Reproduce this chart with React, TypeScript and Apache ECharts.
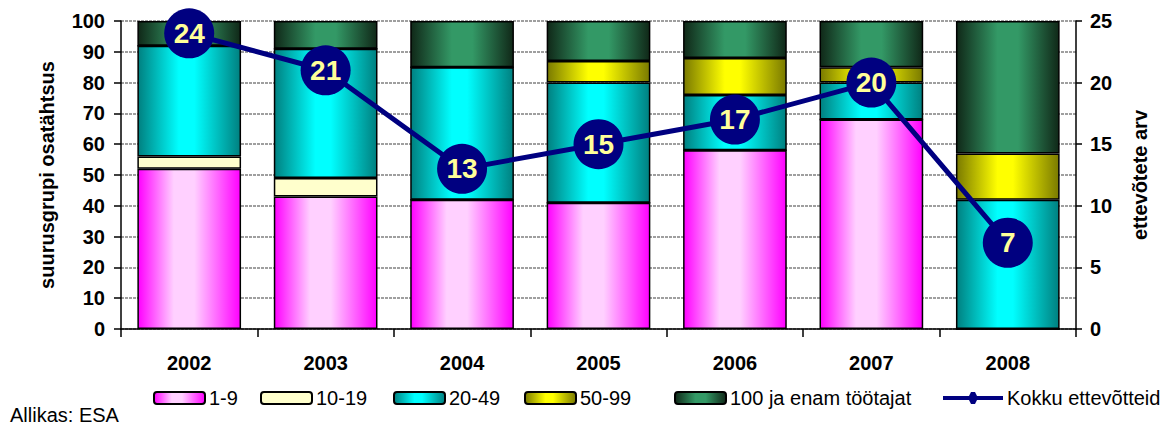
import React, { useEffect, useRef } from "react";
import * as echarts from "echarts";

const categories = ["2002", "2003", "2004", "2005", "2006", "2007", "2008"];
const s1_9 = [52, 43, 42, 41, 58, 68, 0];
const s10_19 = [4, 6, 0, 0, 0, 0, 0];
const s20_49 = [36, 42, 43, 39, 18, 12, 42];
const s50_99 = [0, 0, 0, 7, 12, 5, 15];
const s100 = [8, 9, 15, 13, 12, 15, 43];
const total = [24, 21, 13, 15, 17, 20, 7];

const seriesNames = ["1-9", "10-19", "20-49", "50-99", "100 ja enam töötajat", "Kokku ettevõtteid"];
const legendLefts = [153, 260, 393, 524, 674, 943];

const FONT = "Arial, 'Liberation Sans', sans-serif";
const LINE_ICON = "path://M0,4 L26,4 L28,0 L32,0 L34,4 L60,4 L60,8 L34,8 L32,12 L28,12 L26,8 L0,8 Z";

function hGrad(edge: string, mid: string, a = 0.4, b = 0.6) {
  return new echarts.graphic.LinearGradient(0, 0, 1, 0, [
    { offset: 0, color: edge },
    { offset: a, color: mid },
    { offset: b, color: mid },
    { offset: 1, color: edge },
  ]);
}

export default function App() {
  const ref = useRef<HTMLDivElement>(null);
  useEffect(() => {
    if (!ref.current) return;
    const chart = echarts.init(ref.current, undefined, { renderer: "svg" });
    const fills = [
      hGrad("#FF00FF", "#FFD0FF", 0.35, 0.55),
      "#FFFFCC",
      hGrad("#008080", "#00FFFF", 0.4, 0.55),
      hGrad("#7A7A00", "#FFFF00", 0.4, 0.55),
      hGrad("#102818", "#339966", 0.4, 0.6),
    ];
    const dataSets = [s1_9, s10_19, s20_49, s50_99, s100];
    const barSeries = dataSets.map((d, i) => ({
      name: seriesNames[i],
      type: "bar",
      stack: "total",
      barCategoryGap: "24%",
      data: d,
      itemStyle: { color: fills[i], borderColor: "#000", borderWidth: 1.5 },
      z: 2,
    }));
    const legends = seriesNames.map((n, i) => ({
      data: i === 5 ? [{ name: n, icon: LINE_ICON, itemStyle: { color: "#000080" } }] : [n],
      left: legendLefts[i],
      top: 388,
      padding: 0,
      itemWidth: i === 5 ? 60 : 51,
      itemHeight: 12,
      itemGap: 4,
      textStyle: { fontFamily: FONT, fontSize: 20, color: "#000", padding: [0, 0, 0, -1] },
    }));
    chart.setOption({
      animation: false,
      backgroundColor: "#fff",
      grid: { left: 121, right: 93, top: 21, bottom: 96 },
      legend: legends,
      xAxis: {
        type: "category",
        data: categories,
        axisLine: { lineStyle: { color: "#000", width: 1.5 } },
        axisTick: { show: true, length: 8, lineStyle: { color: "#000", width: 1.5 } },
        axisLabel: { margin: 24, fontFamily: FONT, fontSize: 20, fontWeight: "bold", color: "#000" },
      },
      yAxis: [
        {
          type: "value",
          min: 0,
          max: 100,
          interval: 10,
          name: "suurusgrupi osatähtsus",
          nameLocation: "middle",
          nameGap: 64,
          nameRotate: 90,
          nameTextStyle: { fontFamily: FONT, fontSize: 20, fontWeight: "bold", color: "#000" },
          axisLine: { show: true, lineStyle: { color: "#000", width: 1.5 } },
          axisTick: { show: true, length: 7, lineStyle: { color: "#000", width: 1.5 } },
          axisLabel: { margin: 16, fontFamily: FONT, fontSize: 20, fontWeight: "bold", color: "#000" },
          splitLine: { show: true, lineStyle: { color: "#808080", type: [3, 1], width: 1.5 } },
        },
        {
          type: "value",
          min: 0,
          max: 25,
          interval: 5,
          position: "right",
          name: "ettevõtete arv",
          nameLocation: "middle",
          nameGap: 54,
          nameRotate: 90,
          nameTextStyle: { fontFamily: FONT, fontSize: 20, fontWeight: "bold", color: "#000" },
          axisLine: { show: true, lineStyle: { color: "#000", width: 1.5 } },
          axisTick: { show: true, length: 6, lineStyle: { color: "#000", width: 1.5 } },
          axisLabel: { margin: 14, fontFamily: FONT, fontSize: 20, fontWeight: "bold", color: "#000" },
          splitLine: { show: false },
        },
      ],
      series: [
        ...barSeries,
        {
          name: seriesNames[5],
          type: "line",
          yAxisIndex: 1,
          data: total,
          symbol: "circle",
          symbolSize: 50,
          z: 5,
          itemStyle: { color: "#000080" },
          lineStyle: { color: "#000080", width: 5 },
          label: {
            show: true,
            position: "inside",
            color: "#FFFF99",
            fontFamily: FONT,
            fontSize: 28,
            fontWeight: "bold",
          },
        },
      ],
      graphic: [
        {
          type: "text",
          left: 10,
          top: 405,
          style: { text: "Allikas: ESA", fontFamily: FONT, fontSize: 20, fill: "#000" },
        },
      ],
    });
    return () => chart.dispose();
  }, []);
  return (
    <div
      ref={ref}
      style={{ position: "fixed", left: 0, top: 0, width: 1169, height: 425 }}
    />
  );
}
